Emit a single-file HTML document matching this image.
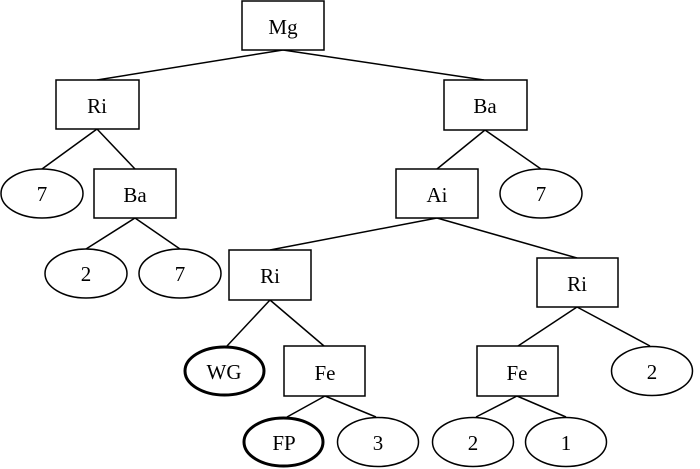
<!DOCTYPE html>
<html><head><meta charset="utf-8"><style>html,body{margin:0;padding:0;background:#fff}svg{display:block}</style></head><body>
<svg width="700" height="469" viewBox="0 0 700 469" xmlns="http://www.w3.org/2000/svg" font-family="Liberation Serif, serif" font-size="21" text-anchor="middle">
<g stroke="#000" stroke-width="1.5" fill="none">
<line x1="283" y1="50" x2="97" y2="80"/><line x1="283" y1="50" x2="484" y2="80"/>
<line x1="97" y1="129" x2="42" y2="169"/><line x1="97" y1="129" x2="135" y2="169"/>
<line x1="135" y1="218" x2="86" y2="249"/><line x1="135" y1="218" x2="180" y2="249"/>
<line x1="485" y1="130" x2="437" y2="169"/><line x1="485" y1="130" x2="541" y2="169"/>
<line x1="437" y1="218" x2="270" y2="250"/><line x1="437" y1="218" x2="577" y2="258"/>
<line x1="270" y1="300" x2="227" y2="346"/><line x1="270" y1="300" x2="324" y2="346"/>
<line x1="325" y1="396" x2="287" y2="417"/><line x1="325" y1="396" x2="376" y2="417"/>
<line x1="577" y1="307" x2="518" y2="346"/><line x1="577" y1="307" x2="650" y2="346"/>
<line x1="517" y1="396" x2="476" y2="417"/><line x1="517" y1="396" x2="566" y2="417"/>
<rect x="242" y="1" width="82" height="49" fill="#fff"/>
<rect x="56" y="80" width="83" height="49" fill="#fff"/>
<rect x="94" y="169" width="82" height="49" fill="#fff"/>
<rect x="444" y="80" width="83" height="50" fill="#fff"/>
<rect x="396" y="169" width="82" height="49" fill="#fff"/>
<rect x="229" y="250" width="82" height="50" fill="#fff"/>
<rect x="537" y="258" width="81" height="49" fill="#fff"/>
<rect x="284" y="346" width="81" height="50" fill="#fff"/>
<rect x="477" y="346" width="81" height="50" fill="#fff"/>
<ellipse cx="42" cy="193.5" rx="41" ry="24.5" fill="#fff"/>
<ellipse cx="86" cy="273.5" rx="41" ry="24.5" fill="#fff"/>
<ellipse cx="180" cy="273.5" rx="41" ry="24.5" fill="#fff"/>
<ellipse cx="541" cy="193.5" rx="41" ry="24.5" fill="#fff"/>
<ellipse cx="378" cy="442" rx="40.5" ry="24.5" fill="#fff"/>
<ellipse cx="473" cy="442" rx="40.5" ry="24.5" fill="#fff"/>
<ellipse cx="566" cy="442" rx="40.5" ry="24.5" fill="#fff"/>
<ellipse cx="652" cy="371" rx="40.5" ry="24.5" fill="#fff"/>
<ellipse cx="224.5" cy="371" rx="39.5" ry="24" fill="#fff" stroke-width="3"/>
<ellipse cx="283.5" cy="442" rx="39.5" ry="24" fill="#fff" stroke-width="3"/>
</g>
<g fill="#000">
<text x="283" y="34">Mg</text>
<text x="97" y="113">Ri</text>
<text x="135" y="202">Ba</text>
<text x="485" y="113">Ba</text>
<text x="437" y="202">Ai</text>
<text x="270" y="283">Ri</text>
<text x="577" y="291">Ri</text>
<text x="325" y="380">Fe</text>
<text x="517" y="380">Fe</text>
<text x="42" y="201">7</text>
<text x="86" y="281">2</text>
<text x="180" y="281">7</text>
<text x="541" y="201">7</text>
<text x="224" y="379">WG</text>
<text x="284" y="450">FP</text>
<text x="378" y="450">3</text>
<text x="473" y="450">2</text>
<text x="566" y="450">1</text>
<text x="652" y="379">2</text>
</g>
</svg>
</body></html>
